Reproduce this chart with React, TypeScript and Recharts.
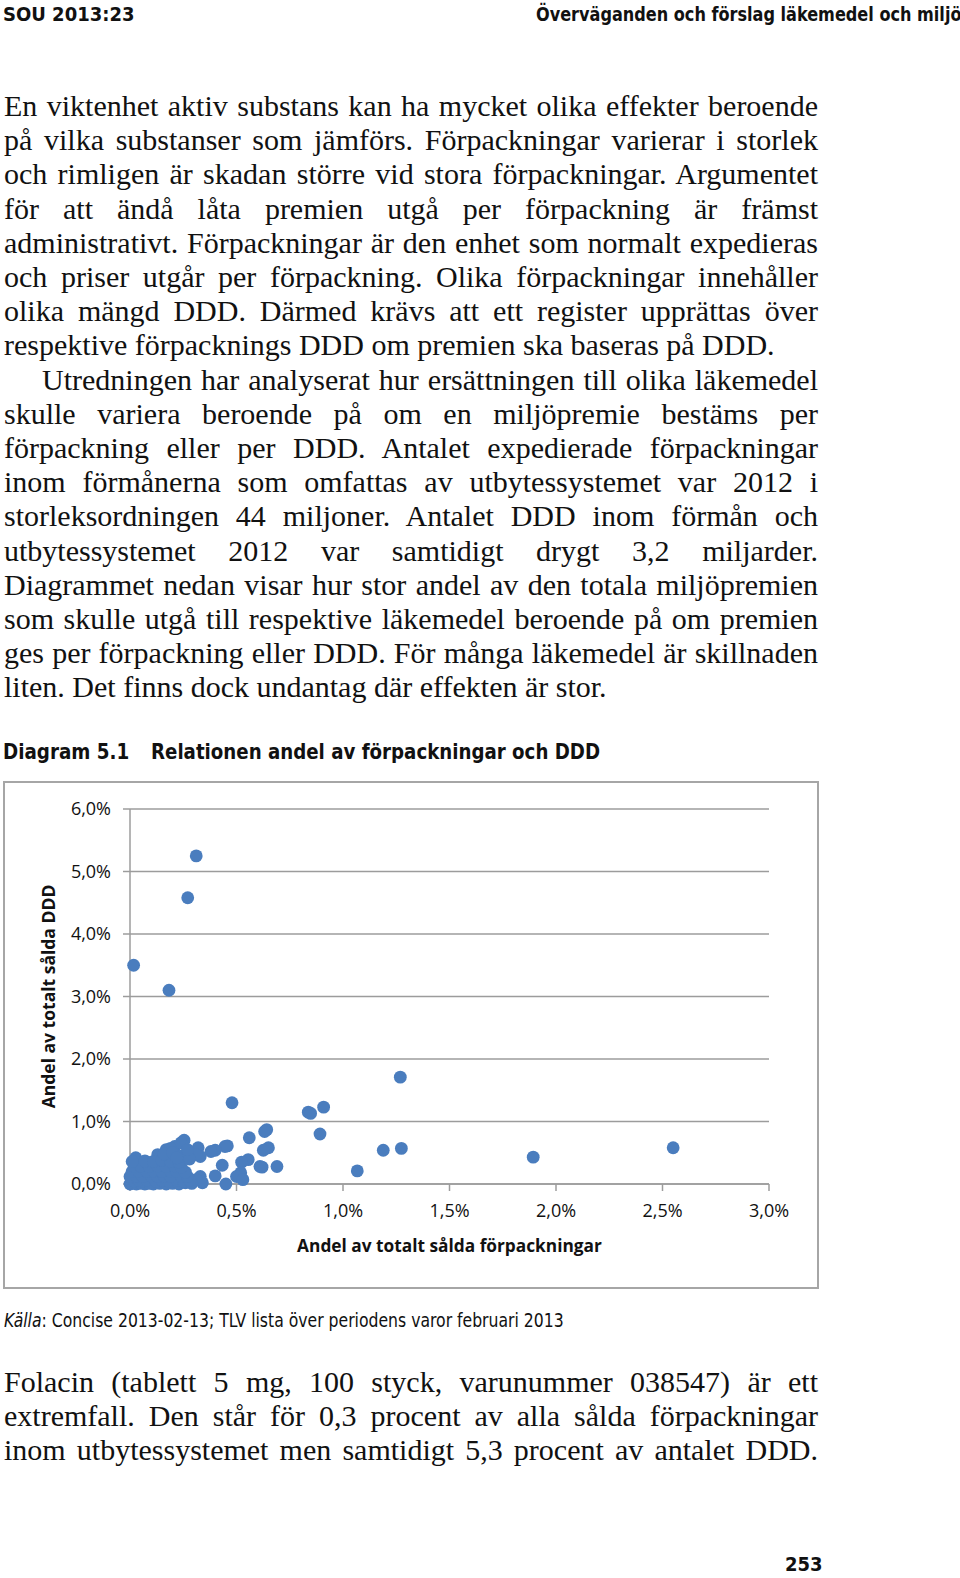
import React from 'react';
import { ScatterChart, Scatter, XAxis, YAxis, CartesianGrid } from 'recharts';

// ---------- data (percent units) ----------
const xTicks = [0, 0.5, 1, 1.5, 2, 2.5, 3];
const yTicks = [0, 1, 2, 3, 4, 5, 6];

// [andel förpackningar %, andel DDD %]
const outlierPoints: [number, number][] = [
  [0.311, 5.25], [0.271, 4.58], [0.017, 3.5], [0.183, 3.1],
  [1.269, 1.71], [0.479, 1.3], [0.837, 1.15], [0.848, 1.13], [0.909, 1.23],
  [0.892, 0.8], [1.189, 0.54], [1.274, 0.57], [1.067, 0.21], [1.893, 0.43], [2.55, 0.58],
];

const midPoints: [number, number][] = [
  [0.642, 0.87], [0.632, 0.84], [0.56, 0.74], [0.65, 0.58], [0.626, 0.54],
  [0.555, 0.39], [0.524, 0.35], [0.62, 0.27], [0.61, 0.28], [0.69, 0.28],
  [0.52, 0.18], [0.5, 0.12], [0.53, 0.07], [0.433, 0.3], [0.4, 0.13], [0.45, 0.0],
  [0.457, 0.61], [0.446, 0.6], [0.4, 0.54], [0.38, 0.52], [0.32, 0.58], [0.33, 0.44],
  [0.33, 0.12], [0.34, 0.02], [0.31, 0.07], [0.254, 0.7], [0.31, 0.47], [0.21, 0.6],
  [0.17, 0.55], [0.13, 0.47], [0.027, 0.42], [0.086, 0.34], [0.24, 0.66], [0.19, 0.57],
];

const clusterPoints: [number, number][] = [
  [0.0, 0.0], [0.01, 0.01], [0.03, 0.0], [0.05, 0.01], [0.07, 0.0], [0.09, 0.01], [0.11, 0.0],
  [0.14, 0.01], [0.17, 0.0], [0.2, 0.01], [0.23, 0.0], [0.26, 0.02], [0.29, 0.01],
  [0.02, 0.05], [0.04, 0.06], [0.06, 0.05], [0.08, 0.06], [0.12, 0.05], [0.15, 0.06],
  [0.18, 0.05], [0.22, 0.06], [0.25, 0.05], [0.28, 0.06],
  [0.0, 0.12], [0.03, 0.13], [0.06, 0.12], [0.1, 0.13], [0.13, 0.12], [0.16, 0.13],
  [0.19, 0.12], [0.24, 0.13], [0.27, 0.12],
  [0.01, 0.2], [0.04, 0.21], [0.08, 0.2], [0.11, 0.21], [0.15, 0.2], [0.19, 0.21],
  [0.22, 0.2], [0.26, 0.19],
  [0.02, 0.28], [0.05, 0.29], [0.09, 0.28], [0.13, 0.29], [0.17, 0.28], [0.21, 0.29], [0.24, 0.27],
  [0.01, 0.36], [0.07, 0.37], [0.11, 0.36], [0.15, 0.38], [0.19, 0.36], [0.23, 0.35],
  [0.16, 0.48], [0.2, 0.5], [0.24, 0.45], [0.28, 0.4], [0.27, 0.55], [0.22, 0.42],
];

const allPoints = [...outlierPoints, ...midPoints, ...clusterPoints].map(([x, y]) => ({ x, y }));

// ---------- text ----------
const headerLeft = 'SOU 2013:23';
const headerRight = 'Överväganden och förslag läkemedel och miljö';

const para1 = [
  'En viktenhet aktiv substans kan ha mycket olika effekter beroende',
  'på vilka substanser som jämförs. Förpackningar varierar i storlek',
  'och rimligen är skadan större vid stora förpackningar. Argumentet',
  'för att ändå låta premien utgå per förpackning är främst',
  'administrativt. Förpackningar är den enhet som normalt expedieras',
  'och priser utgår per förpackning. Olika förpackningar innehåller',
  'olika mängd DDD. Därmed krävs att ett register upprättas över',
  'respektive förpacknings DDD om premien ska baseras på DDD.',
];
const para2 = [
  'Utredningen har analyserat hur ersättningen till olika läkemedel',
  'skulle variera beroende på om en miljöpremie bestäms per',
  'förpackning eller per DDD. Antalet expedierade förpackningar',
  'inom förmånerna som omfattas av utbytessystemet var 2012 i',
  'storleksordningen 44 miljoner. Antalet DDD inom förmån och',
  'utbytessystemet 2012 var samtidigt drygt 3,2 miljarder.',
  'Diagrammet nedan visar hur stor andel av den totala miljöpremien',
  'som skulle utgå till respektive läkemedel beroende på om premien',
  'ges per förpackning eller DDD. För många läkemedel är skillnaden',
  'liten. Det finns dock undantag där effekten är stor.',
];
const para3 = [
  'Folacin (tablett 5 mg, 100 styck, varunummer 038547) är ett',
  'extremfall. Den står för 0,3 procent av alla sålda förpackningar',
  'inom utbytessystemet men samtidigt 5,3 procent av antalet DDD.',
];

const diagramNo = 'Diagram 5.1';
const diagramTitle = 'Relationen andel av förpackningar och DDD';
const xTitle = 'Andel av totalt sålda förpackningar';
const yTitle = 'Andel av totalt sålda DDD';
const pageNo = '253';

const fmt = (v: number) => v.toFixed(1).replace('.', ',') + '%';

const SERIF = "'Liberation Serif', 'DejaVu Serif', serif";
const COND = "'DejaVu Sans Condensed', 'Liberation Sans', sans-serif";
const CHARTFONT = "'Open Sans', 'Liberation Sans', sans-serif";

const LINE_H = 34.2;
const TEXT_W = 814;

function Line({ text, top, justify, indent = 0 }: { text: string; top: number; justify: boolean; indent?: number }) {
  return (
    <div
      style={{
        position: 'absolute',
        left: 4 + indent,
        top,
        width: TEXT_W - indent,
        fontFamily: SERIF,
        fontSize: 30,
        lineHeight: LINE_H + 'px',
        color: '#111',
        textAlign: justify ? 'justify' : 'left',
        textAlignLast: justify ? 'justify' : 'left',
      }}
    >
      {text}
    </div>
  );
}

function Cond({ text, left, top, size, bold, scale, children }: any) {
  return (
    <div
      style={{
        position: 'absolute',
        left,
        top,
        fontFamily: COND,
        fontWeight: bold ? 700 : 400,
        fontSize: size,
        lineHeight: '24px',
        color: '#111',
        whiteSpace: 'nowrap',
        transform: `scaleX(${scale})`,
        transformOrigin: 'left top',
      }}
    >
      {children ?? text}
    </div>
  );
}

const Dot = (props: any) => <circle cx={props.cx} cy={props.cy} r={6.4} fill="#4a7dbe" />;

export default function App() {
  const bodyTop = 89;
  return (
    <div style={{ position: 'absolute', left: 0, top: 0, width: 960, height: 1578, background: '#fff', overflow: 'hidden' }}>
      <Cond text={headerLeft} left={3} top={2} size={20} bold scale={1} />
      <Cond text={headerRight} left={536} top={2} size={20} bold scale={0.895} />

      {para1.map((t, i) => (
        <Line key={'a' + i} text={t} top={bodyTop + i * LINE_H} justify={i < para1.length - 1} />
      ))}
      {para2.map((t, i) => (
        <Line
          key={'b' + i}
          text={t}
          top={bodyTop + (para1.length + i) * LINE_H}
          justify={i < para2.length - 1}
          indent={i === 0 ? 38 : 0}
        />
      ))}

      <Cond text={diagramNo} left={3} top={740} size={22} bold scale={0.925} />
      <Cond text={diagramTitle} left={151} top={740} size={22} bold scale={0.92} />

      <div style={{ position: 'absolute', left: 3, top: 781, width: 816, height: 508, border: '2px solid #a6a6a6', boxSizing: 'border-box' }} />
      <div style={{ position: 'absolute', left: 0, top: 781 }}>
        <ScatterChart width={820} height={509} margin={{ top: 28, right: 51, bottom: 0, left: 0 }}>
          <CartesianGrid horizontal vertical={false} stroke="#9c9c9c" strokeWidth={1.5} />
          <XAxis
            type="number"
            dataKey="x"
            domain={[0, 3]}
            ticks={xTicks}
            tickFormatter={fmt}
            height={106}
            tickSize={7}
            tickMargin={13}
            stroke="#9c9c9c"
            strokeWidth={1.5}
            tick={{ fill: '#111', fontSize: 18, fontFamily: CHARTFONT }}
            label={(p: any) => {
              const vb = p.viewBox || {};
              return (
                <text x={vb.x + vb.width / 2} y={vb.y + 68} textAnchor="middle" fontFamily={CHARTFONT} fontWeight={700} fontSize={17.3} fill="#111">
                  {xTitle}
                </text>
              );
            }}
          />
          <YAxis
            type="number"
            dataKey="y"
            domain={[0, 6]}
            ticks={yTicks}
            tickFormatter={fmt}
            width={130}
            tickSize={7}
            tickMargin={12}
            stroke="#9c9c9c"
            strokeWidth={1.5}
            tick={{ fill: '#111', fontSize: 18, fontFamily: CHARTFONT }}
            label={(p: any) => {
              const vb = p.viewBox || {};
              const cx = 55;
              const cy = vb.y + vb.height / 2;
              return (
                <text x={cx} y={cy} transform={`rotate(-90 ${cx} ${cy})`} textAnchor="middle" fontFamily={CHARTFONT} fontWeight={700} fontSize={17.5} fill="#111">
                  {yTitle}
                </text>
              );
            }}
          />
          <Scatter data={allPoints} fill="#4a7dbe" shape={Dot} isAnimationActive={false} />
        </ScatterChart>
      </div>

      <Cond left={4} top={1308} size={20} scale={0.87}>
        <i>Källa</i>: Concise 2013-02-13; TLV lista över periodens varor februari 2013
      </Cond>

      {para3.map((t, i) => (
        <Line key={'c' + i} text={t} top={1365 + i * LINE_H} justify />
      ))}

      <div style={{ position: 'absolute', left: 785, top: 1552, fontFamily: COND, fontWeight: 700, fontSize: 20, lineHeight: '24px', color: '#111' }}>
        {pageNo}
      </div>
    </div>
  );
}
